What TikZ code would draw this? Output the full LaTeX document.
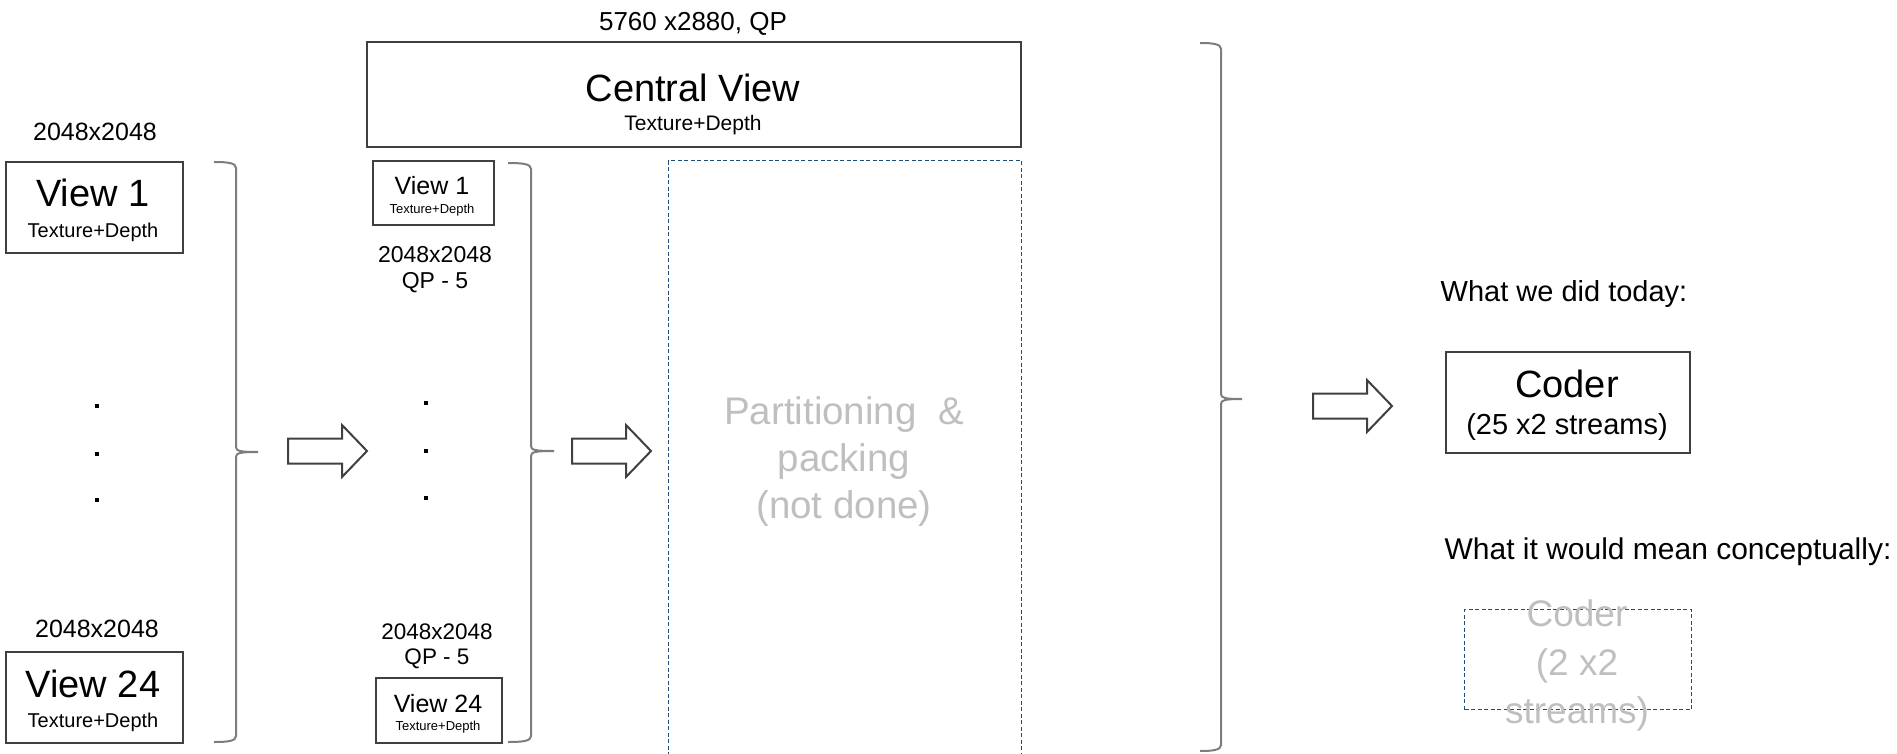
\documentclass[tikz,border=0pt]{standalone}
\usepackage{fontspec}
\setmainfont{Liberation Sans}
\definecolor{boxc}{RGB}{64,64,64}
\definecolor{bracec}{RGB}{125,125,125}
\definecolor{dashc}{RGB}{31,78,121}
\definecolor{grayt}{RGB}{191,191,191}
\newcommand{\fsz}[1]{\fontsize{#1}{#1}\selectfont}
\newcommand{\mybrace}[6]{% hook, vertical, tip, top, mid, bottom
  \draw[brace] (#1,#4) .. controls (#2-8,#4) and (#2,#4+1) .. (#2,#4+6)
    -- (#2,#5-5) .. controls (#2,#5-1) and (#2+4,#5) .. (#3,#5)
    .. controls (#2+4,#5) and (#2,#5+1) .. (#2,#5+5)
    -- (#2,#6-6) .. controls (#2,#6-1) and (#2-8,#6) .. (#1,#6);}
\newcommand{\blockarrow}[2]{% left x, centre y
  \draw[barrow] (#1,#2-12.5) -- (#1+54,#2-12.5) -- (#1+54,#2-26) -- (#1+79,#2)
    -- (#1+54,#2+26) -- (#1+54,#2+12.5) -- (#1,#2+12.5) -- cycle;}
\begin{document}
\begin{tikzpicture}[x=1pt,y=-1pt,
  box/.style={draw=boxc, line width=2pt, inner sep=0pt, anchor=north west},
  dbox/.style={draw=dashc, line width=1.3pt, dash pattern=on 4pt off 2.5pt, inner sep=0pt, anchor=north west},
  brace/.style={draw=bracec, line width=2pt},
  barrow/.style={draw=boxc, line width=2pt, fill=white, line join=miter},
  txt/.style={anchor=base, inner sep=0pt, text=black},
  gtxt/.style={anchor=base, inner sep=0pt, text=grayt},
  dotm/.style={fill=black, minimum size=4.5pt, inner sep=0pt}]
\useasboundingbox (0,0) rectangle (1897,754);

% ---------- left column ----------
\node[txt] (lres1) at (95,141) {\fsz{25}2048x2048};
\node[box, minimum width=177pt, minimum height=91pt] (v1) at (5,161) {};
\node[txt] (v1a) at (93,207) {\fsz{38}View 1};
\node[txt] (v1b) at (93,237) {\fsz{20}Texture+Depth};

\node[txt] (lres24) at (97,637) {\fsz{25}2048x2048};
\node[box, minimum width=177pt, minimum height=91pt] (v24) at (5,651) {};
\node[txt] (v24a) at (93,697) {\fsz{38}View 24};
\node[txt] (v24b) at (93,727) {\fsz{20}Texture+Depth};

\node[dotm] (ld1) at (97,406) {};
\node[dotm] (ld2) at (97,454) {};
\node[dotm] (ld3) at (97,500) {};

\mybrace{214}{236}{258}{162}{452}{742}
\blockarrow{288}{451}

% ---------- middle column ----------
\node[box, minimum width=121pt, minimum height=64pt] (m1) at (372,160) {};
\node[txt] (m1a) at (432,195) {\fsz{25}View 1};
\node[txt] (m1b) at (432,213) {\fsz{13}Texture+Depth};
\node[txt] (mres1) at (435,262) {\fsz{23}2048x2048};
\node[txt] (mqp1) at (435,288) {\fsz{23}QP - 5};

\node[txt] (mres24) at (437,639) {\fsz{22.5}2048x2048};
\node[txt] (mqp24) at (437,664) {\fsz{22.5}QP - 5};
\node[box, minimum width=126pt, minimum height=65pt] (m24) at (375,677) {};
\node[txt] (m24a) at (438,712) {\fsz{25}View 24};
\node[txt] (m24b) at (438,730) {\fsz{13}Texture+Depth};

\node[dotm] (md1) at (426,403) {};
\node[dotm] (md2) at (426,451) {};
\node[dotm] (md3) at (426,498) {};

\mybrace{508}{531}{554}{163}{451}{742}
\blockarrow{572}{451}

% ---------- central view and packing ----------
\node[txt] (cres) at (693,31) {\fsz{26}5760 x2880, QP};
\node[box, minimum width=654pt, minimum height=105pt] (cv) at (366,41) {};
\node[txt] (cva) at (693,102) {\fsz{38}Central View};
\node[txt] (cvb) at (693,131) {\fsz{21}Texture+Depth};

\node[dbox, minimum width=353pt, minimum height=620pt] (pack) at (668,160) {};
\node[gtxt] (pa) at (844,424) {\fsz{38.5}Partitioning \ \&};
\node[gtxt] (pb) at (844,471) {\fsz{38.5}packing};
\node[gtxt] (pc) at (844,518) {\fsz{38.5}(not done)};

\mybrace{1200}{1221}{1242}{43}{399}{751}
\blockarrow{1313}{406}

% ---------- right side ----------
\node[txt] (today) at (1564,301) {\fsz{29}What we did today:};
\node[box, minimum width=244pt, minimum height=101pt] (coder) at (1445,351) {};
\node[txt] (ca) at (1567,397) {\fsz{38}Coder};
\node[txt] (cb) at (1567,434) {\fsz{29}(25 x2 streams)};

\node[txt] (concept) at (1668,559) {\fsz{30}What it would mean conceptually:};
\node[dbox, minimum width=227pt, minimum height=100pt] (gcoder) at (1464,609) {};
\node[gtxt] (ga) at (1577,626) {\fsz{37}Coder};
\node[gtxt] (gb) at (1577,675) {\fsz{37}(2 x2};
\node[gtxt] (gc) at (1577,723) {\fsz{37}streams)};
\end{tikzpicture}
\end{document}
